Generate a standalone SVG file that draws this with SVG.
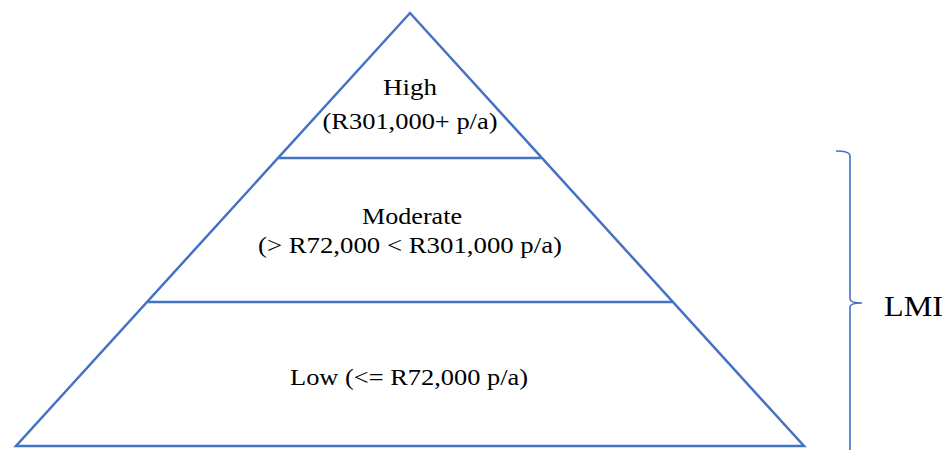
<svg xmlns="http://www.w3.org/2000/svg" width="944" height="450" viewBox="0 0 944 450">
<style>
.ln{stroke:#4472C4;stroke-width:2.5;fill:none}
.br{stroke:#4472C4;stroke-width:1.6;fill:none}
text{font-family:"Liberation Serif","Tinos","DejaVu Serif","Times New Roman",serif;fill:#000;text-anchor:middle}
.t{font-size:24px}
.big{font-size:30px;text-anchor:start}
</style>
<rect width="944" height="450" fill="#fff"/>
<g id="pyramid">
<polygon class="ln" points="410,13 804,446 16,446"/>
</g>
<g id="connectors">
<line class="ln" x1="279" y1="158" x2="541" y2="158"/>
<line class="ln" x1="148" y1="302" x2="672" y2="302"/>
</g>
<g id="high">
<text class="t" x="410" y="95" textLength="54" lengthAdjust="spacingAndGlyphs">High</text>
<text class="t" x="410" y="129" textLength="175" lengthAdjust="spacingAndGlyphs">(R301,000+ p/a)</text>
</g>
<g id="moderate">
<text class="t" x="412" y="224" textLength="100" lengthAdjust="spacingAndGlyphs">Moderate</text>
<text class="t" x="410" y="253" textLength="304" lengthAdjust="spacingAndGlyphs">(&gt; R72,000 &lt; R301,000 p/a)</text>
</g>
<g id="low">
<text class="t" x="409" y="385" textLength="238" lengthAdjust="spacingAndGlyphs">Low (&lt;= R72,000 p/a)</text>
</g>
<g id="lmi">
<path class="br" d="M836,151 Q850,151 850,156 L850,299 Q850,303 862,303 Q850,303 850,307 L850,450"/>
<text class="big" x="884" y="316" textLength="59" lengthAdjust="spacingAndGlyphs">LMI</text>
</g>
</svg>
